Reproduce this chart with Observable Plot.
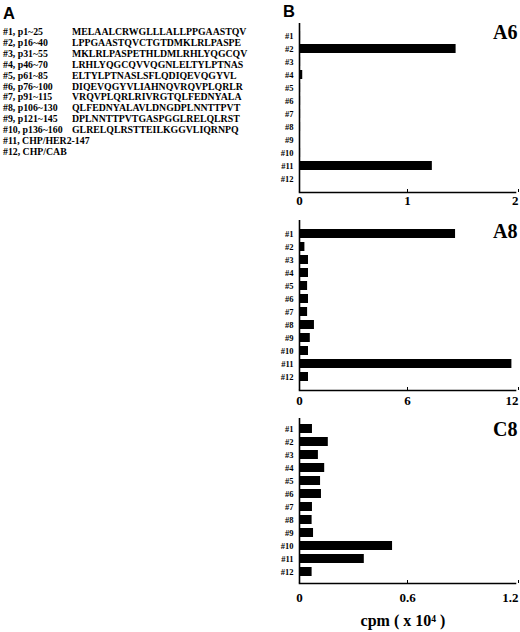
<!DOCTYPE html>
<html>
<head>
<meta charset="utf-8">
<script src="https://cdn.jsdelivr.net/npm/d3@7"></script>
<script src="https://cdn.jsdelivr.net/npm/@observablehq/plot@0.6"></script>
<style>
  html, body { margin: 0; padding: 0; background: #fff; }
  #root { position: relative; width: 520px; height: 632px; overflow: hidden; background: #fff; }
  .abs { position: absolute; }
  .panel-letter { font-family: "Liberation Sans", Arial, sans-serif; font-weight: bold; font-size: 16.5px; line-height: 1; }
  .row { position: absolute; font-family: "Liberation Serif", "Times New Roman", serif; font-weight: bold; font-size: 9.8px; line-height: 1; white-space: nowrap; }
  .xlabel { font-family: "Liberation Serif", "Times New Roman", serif; font-weight: bold; font-size: 16px; white-space: nowrap; line-height: 1; }
</style>
</head>
<body>
<div id="root"></div>
<script>
// ---- data ----
const peptides = ["#1", "#2", "#3", "#4", "#5", "#6", "#7", "#8", "#9", "#10", "#11", "#12"];
const peptideNames = ["#1, p1~25", "#2, p16~40", "#3, p31~55", "#4, p46~70", "#5, p61~85", "#6, p76~100",
  "#7, p91~115", "#8, p106~130", "#9, p121~145", "#10, p136~160", "#11, CHP/HER2-147", "#12, CHP/CAB"];
const sequences = ["MELAALCRWGLLLALLPPGAASTQV", "LPPGAASTQVCTGTDMKLRLPASPE", "MKLRLPASPETHLDMLRHLYQGCQV",
  "LRHLYQGCQVVQGNLELTYLPTNAS", "ELTYLPTNASLSFLQDIQEVQGYVL", "DIQEVQGYVLIAHNQVRQVPLQRLR",
  "VRQVPLQRLRIVRGTQLFEDNYALA", "QLFEDNYALAVLDNGDPLNNTTPVT", "DPLNNTTPVTGASPGGLRELQLRST",
  "GLRELQLRSTTEILKGGVLIQRNPQ", "", ""];
const a6Values = [0.01, 1.45, 0.01, 0.03, 0.01, 0.01, 0.01, 0.01, 0.006, 0.01, 1.23, 0.006];
const a8Values = [8.67, 0.3, 0.5, 0.5, 0.45, 0.5, 0.45, 0.83, 0.6, 0.5, 11.8, 0.5];
const c8Values = [0.072, 0.16, 0.105, 0.14, 0.117, 0.122, 0.072, 0.07, 0.078, 0.517, 0.36, 0.07];
const a6Ticks = [0, 1, 2];
const a8Ticks = [0, 6, 12];
const c8Ticks = [0, 0.6, 1.2];
const panelNames = ["A6", "A8", "C8"];
const xAxisLabel = "cpm ( x 10\u2074 )";

const root = document.getElementById("root");
function addDiv(cls, text, left, top, extra) {
  const d = document.createElement("div");
  d.className = cls;
  d.textContent = text;
  d.style.left = left + "px";
  d.style.top = top + "px";
  if (extra) Object.assign(d.style, extra);
  root.appendChild(d);
  return d;
}

// ---- panel A (peptide list) ----
addDiv("abs panel-letter", "A", 3, 5);
const rowTop = 27, rowStep = 10.9;
peptideNames.forEach((n, i) => {
  addDiv("row", n, 3, rowTop + i * rowStep);
  if (sequences[i]) {
    addDiv("row", sequences[i], 72, rowTop + i * rowStep, {width: "176px", overflow: "hidden"});
  }
});

// ---- panel B (bar charts) ----
addDiv("abs panel-letter", "B", 283, 3);

function panel(values, ticks, name, top, plotH, tickPad, nameDy) {
  const data = peptides.map((p, i) => ({p, v: values[i]}));
  const mt = 8, mb = 24;
  const inner = ticks.slice(0, -1);
  const last = ticks.slice(-1);
  const fmt = d => String(d);
  const chart = Plot.plot({
    width: 240,
    height: mt + plotH + mb,
    marginLeft: 19,
    marginRight: 5,
    marginTop: mt,
    marginBottom: mb,
    style: {fontFamily: "'Liberation Serif', 'Times New Roman', serif", fontWeight: "bold", background: "transparent", color: "#000", overflow: "visible"},
    x: {domain: [ticks[0], ticks[ticks.length - 1]], label: null},
    y: {domain: peptides, padding: 0.28, label: null},
    marks: [
      Plot.barX(data, {x: "v", y: "p", fill: "#000"}),
      Plot.axisY({tickSize: 0, tickPadding: 6, fontSize: 8.5, fontWeight: "bold"}),
      Plot.axisX({ticks: inner, tickSize: -3, tickPadding: tickPad, fontSize: 13, fontWeight: "bold", tickFormat: fmt}),
      Plot.axisX({ticks: last, tickSize: -3, tickPadding: tickPad, fontSize: 13, fontWeight: "bold", tickFormat: fmt, textAnchor: "end", dx: 3}),
      Plot.ruleX([ticks[0]], {strokeWidth: 1.6}),
      Plot.frame({anchor: "bottom", strokeWidth: 1.6}),
      Plot.text([name], {frameAnchor: "top-right", text: d => d, dx: 2, dy: nameDy, fontSize: 20, fontWeight: "bold", textAnchor: "end", lineAnchor: "top"})
    ]
  });
  chart.style.position = "absolute";
  chart.style.left = "280px";
  chart.style.top = top + "px";
  root.appendChild(chart);
}

panel(a6Values, a6Ticks, panelNames[0], 15, 169, 6, 1);
panel(a8Values, a8Ticks, panelNames[1], 212, 170, 8, 3);
panel(c8Values, c8Ticks, panelNames[2], 410, 165, 12, 3);

addDiv("abs xlabel", xAxisLabel, 403, 613, {transform: "translateX(-50%)"});
</script>
</body>
</html>
